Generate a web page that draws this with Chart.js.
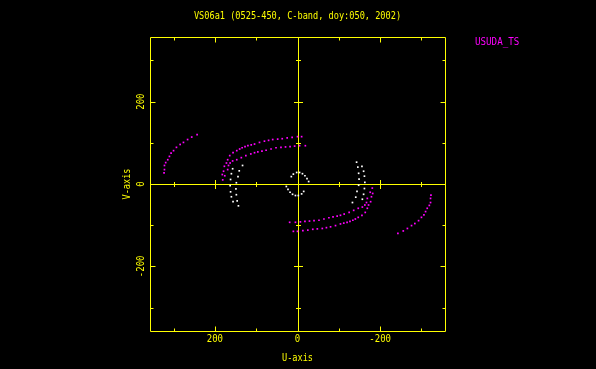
<!DOCTYPE html>
<html><head><meta charset="utf-8">
<script src="https://cdn.jsdelivr.net/npm/chart.js@4.4.1/dist/chart.umd.min.js"></script>
<style>html,body{margin:0;padding:0;background:#000;}canvas{display:block;}</style>
</head><body>
<canvas id="c" width="596" height="369"></canvas>
<script>
// ---- text ----
const titleText = "VS06a1 (0525-450, C-band, doy:050, 2002)";
const legendLabel = "USUDA_TS";
const xAxisTitle = "U-axis";
const yAxisTitle = "V-axis";

// ---- axes ----
const axisMin = -357, axisMax = 357;
const majorTicks = [-200, 0, 200];
const majorTickLabels = ["-200", "0", "200"];
const minorTicks = [-300, -100, 100, 300];

// ---- USUDA_TS (magenta) uv tracks, [U, V] ----
const usudaArc1 = [[323,27],[322,35],[322,45],[319,52],[314,59],[310,67],[306,75],[300,81],[293,89],[284,96],[276,101],[266,108],[256,114],[243,120]];
const usudaArc1Conj = [[-323,-27],[-322,-35],[-322,-45],[-319,-52],[-314,-59],[-310,-67],[-306,-75],[-300,-81],[-293,-89],[-284,-96],[-276,-101],[-266,-108],[-256,-114],[-243,-120]];
const usudaArcA = [[181,10],[182,23],[179,31],[177,43],[172,51],[169,59],[164,69],[156,76],[147,81],[140,85],[134,88],[127,91],[120,93],[112,95],[104,97],[92,101],[80,104],[70,106],[60,108],[48,109],[37,110],[25,112],[13,113],[0,115],[-10,115]];
const usudaArcAConj = [[-181,-10],[-182,-23],[-179,-31],[-177,-43],[-172,-51],[-169,-59],[-164,-69],[-156,-76],[-147,-81],[-140,-85],[-134,-88],[-127,-91],[-120,-93],[-112,-95],[-104,-97],[-92,-101],[-80,-104],[-70,-106],[-60,-108],[-48,-109],[-37,-110],[-25,-112],[-13,-113],[0,-115],[10,-115]];
const usudaArcB = [[176,20],[169,35],[167,45],[163,51],[157,56],[147,59],[136,64],[125,69],[113,73],[104,76],[96,78],[86,80],[76,82],[64,85],[52,88],[40,89],[29,90],[18,91],[7,92],[-5,93],[-19,93]];
const usudaArcBConj = [[-176,-20],[-169,-35],[-167,-45],[-163,-51],[-157,-56],[-147,-59],[-136,-64],[-125,-69],[-113,-73],[-104,-76],[-96,-78],[-86,-80],[-76,-82],[-64,-85],[-52,-88],[-40,-89],[-29,-90],[-18,-91],[-7,-92],[5,-93],[19,-93]];

// ---- other baselines (white) uv tracks, [U, V] ----
const whiteTrack1 = [[157,37],[160,25],[162,11],[163,-4],[162,-19],[160,-31],[156,-43]];
const whiteTrack1Conj = [[-157,-37],[-160,-25],[-162,-11],[-163,4],[-162,19],[-160,31],[-156,43]];
const whiteTrack2 = [[133,45],[141,32],[144,18],[148,3],[149,-12],[148,-26],[146,-41],[143,-53]];
const whiteTrack2Conj = [[-133,-45],[-141,-32],[-144,-18],[-148,-3],[-149,12],[-148,26],[-146,41],[-143,53]];
const whiteRing = [[15,18],[10,24],[2,28],[-5,28],[-12,25],[-18,20],[-23,13],[-27,6]];
const whiteRingConj = [[-15,-18],[-10,-24],[-2,-28],[5,-28],[12,-25],[18,-20],[23,-13],[27,-6]];

const YELLOW = "#ffff00", MAGENTA = "#ff00ff", WHITE = "#ffffff";
const FONT = '10px "DejaVu Sans Mono"';

function toXY(arr){ return arr.map(p => ({x: p[0], y: p[1]})); }
function ds(arr, color){
  return {data: toXY(arr), backgroundColor: color, borderWidth: 0, pointStyle: 'rect', pointRadius: 1.2, pointHoverRadius: 1.2, showLine: false};
}

function drawText(ctx, txt, x, y, sx, rot, align){
  ctx.save();
  ctx.translate(x, y);
  if (rot) ctx.rotate(rot);
  ctx.scale(sx, 1);
  ctx.textAlign = align || 'center';
  ctx.textBaseline = 'middle';
  ctx.fillText(txt, 0, 0);
  ctx.restore();
}

const framePlugin = {
  id: 'frame',
  beforeDraw(chart){
    const ctx = chart.ctx;
    ctx.save(); ctx.fillStyle = '#000'; ctx.fillRect(0, 0, chart.width, chart.height); ctx.restore();
  },
  beforeDatasetsDraw(chart){
    const ctx = chart.ctx, xs = chart.scales.x, ys = chart.scales.y, a = chart.chartArea;
    const L = Math.round(a.left) + 0.5, R = Math.round(a.right) + 0.5, T = Math.round(a.top) + 0.5, B = Math.round(a.bottom) + 0.5;
    ctx.save();
    ctx.strokeStyle = YELLOW; ctx.lineWidth = 1;
    ctx.beginPath();
    ctx.rect(L, T, R - L, B - T);
    const x0 = Math.round(xs.getPixelForValue(0)) + 0.5, y0 = Math.round(ys.getPixelForValue(0)) + 0.5;
    ctx.moveTo(x0, T); ctx.lineTo(x0, B);
    ctx.moveTo(L, y0); ctx.lineTo(R, y0);
    const tick = (v, len, cross) => {
      const px = Math.round(xs.getPixelForValue(v)) + 0.5;
      const py = Math.round(ys.getPixelForValue(v)) + 0.5;
      ctx.moveTo(px, T); ctx.lineTo(px, T + len);
      ctx.moveTo(px, B); ctx.lineTo(px, B - len);
      ctx.moveTo(L, py); ctx.lineTo(L + len, py);
      ctx.moveTo(R, py); ctx.lineTo(R - len, py);
      ctx.moveTo(px, y0 - cross); ctx.lineTo(px, y0 + cross);
      ctx.moveTo(x0 - cross, py); ctx.lineTo(x0 + cross, py);
    };
    minorTicks.forEach(v => tick(v, 3, 2.5));
    majorTicks.forEach(v => { if (v !== 0) tick(v, 5, 4.5); });
    ctx.stroke();
    ctx.restore();
  },
  afterDraw(chart){
    const ctx = chart.ctx, xs = chart.scales.x, ys = chart.scales.y, a = chart.chartArea;
    ctx.save();
    ctx.font = FONT;
    ctx.fillStyle = YELLOW;
    const cx = (a.left + a.right) / 2;
    drawText(ctx, titleText, cx, 16, 0.86);
    majorTicks.forEach((v, i) => {
      drawText(ctx, majorTickLabels[i], xs.getPixelForValue(v), 339.5, 0.9);
      drawText(ctx, majorTickLabels[i], 141.5, ys.getPixelForValue(v), 0.9, -Math.PI / 2);
    });
    drawText(ctx, xAxisTitle, cx, 358.5, 0.86);
    drawText(ctx, yAxisTitle, 127.5, (a.top + a.bottom) / 2, 0.86, -Math.PI / 2);
    ctx.fillStyle = MAGENTA;
    drawText(ctx, legendLabel, 475, 42, 0.92, 0, 'left');
    ctx.restore();
  }
};

new Chart(document.getElementById('c'), {
  type: 'scatter',
  data: {
    datasets: [
      ds(whiteTrack1, WHITE), ds(whiteTrack1Conj, WHITE),
      ds(whiteTrack2, WHITE), ds(whiteTrack2Conj, WHITE),
      ds(whiteRing, WHITE), ds(whiteRingConj, WHITE),
      ds(usudaArc1, MAGENTA), ds(usudaArc1Conj, MAGENTA),
      ds(usudaArcA, MAGENTA), ds(usudaArcAConj, MAGENTA),
      ds(usudaArcB, MAGENTA), ds(usudaArcBConj, MAGENTA)
    ]
  },
  options: {
    responsive: false, animation: false, devicePixelRatio: 1,
    layout: {padding: {left: 150, right: 151, top: 37, bottom: 38}},
    plugins: {legend: {display: false}, title: {display: false}, tooltip: {enabled: false}},
    events: [],
    scales: {
      x: {type: 'linear', display: false, min: axisMin, max: axisMax, reverse: true},
      y: {type: 'linear', display: false, min: axisMin, max: axisMax}
    }
  },
  plugins: [framePlugin]
});
</script>
</body></html>
